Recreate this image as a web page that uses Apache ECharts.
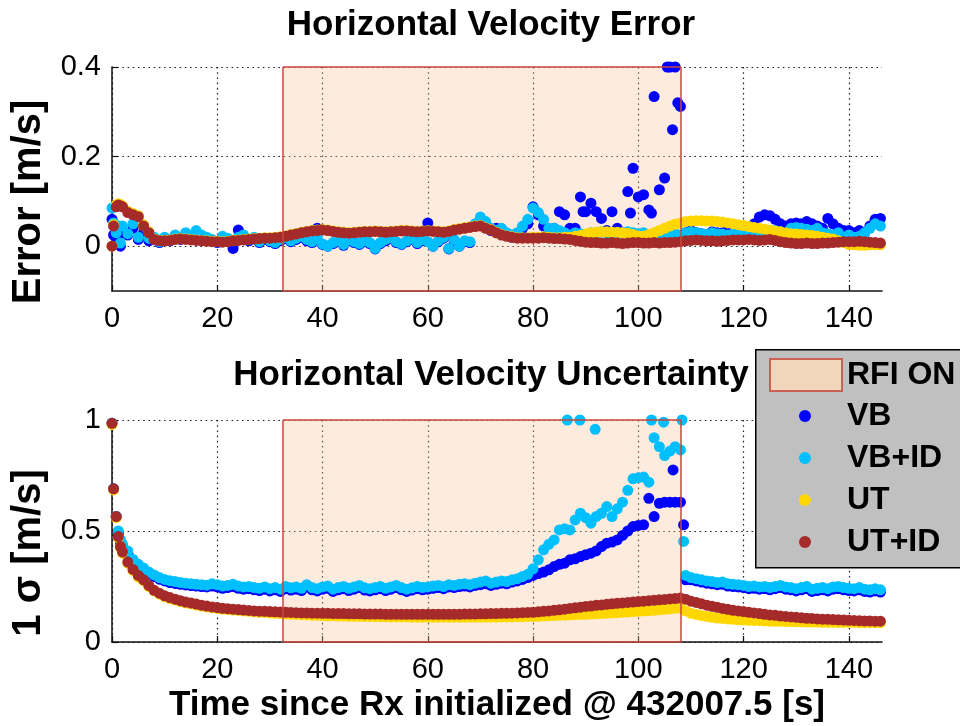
<!DOCTYPE html>
<html><head><meta charset="utf-8">
<script src="https://cdn.jsdelivr.net/npm/echarts@6/dist/echarts.min.js"></script>
<style>html,body{margin:0;padding:0;background:#fff}#c{width:960px;height:726px}</style>
</head><body><div id="c"></div>
<script>
// ---------- data ----------
const rfiStart = 32.5;
const rfiEnd = 108.1;

const xTicks = [0, 20, 40, 60, 80, 100, 120, 140];
const errTicks = [0, 0.2, 0.4];
const sigTicks = [0, 0.5, 1];

const time = [0, 0.3, 0.8, 1.2, 1.6,
  2, 3, 4, 5, 6, 7, 8, 9,
  10, 11, 12, 13, 14, 15, 16, 17, 18, 19,
  20, 21, 22, 23, 24, 25, 26, 27, 28, 29,
  30, 31, 32, 33, 34, 35, 36, 37, 38, 39,
  40, 41, 42, 43, 44, 45, 46, 47, 48, 49,
  50, 51, 52, 53, 54, 55, 56, 57, 58, 59,
  60, 61, 62, 63, 64, 65, 66, 67, 68, 69,
  70, 71, 72, 73, 74, 75, 76, 77, 78, 79,
  80, 81, 82, 83, 84, 85, 86, 87, 88, 89,
  90, 91, 92, 93, 94, 95, 96, 97, 98, 99,
  100, 101, 102, 103, 104, 105, 106, 107, 108, 109,
  110, 111, 112, 113, 114, 115, 116, 117, 118, 119,
  120, 121, 122, 123, 124, 125, 126, 127, 128, 129,
  130, 131, 132, 133, 134, 135, 136, 137, 138, 139,
  140, 141, 142, 143, 144, 145, 146];

// Horizontal velocity error [m/s]
const errVB = [0.06, 0.025, 0.02, 0.03, 0.0,
  0.03, 0.025, 0.04, 0.015, 0.03, 0.012, 0.015, 0.008,
  0.015, 0.012, 0.02, 0.015, 0.025, 0.018, 0.03, 0.02, 0.015, 0.012,
  0.008, 0.018, 0.015, -0.005, 0.036, 0.02, 0.012, 0.018, 0.008, 0.015,
  0.01, 0.006, 0.012, 0.018, 0.01, 0.015, 0.02, 0.012, 0.008, 0.04,
  0.004, 0.0, 0.006, 0.01, 0.002, 0.012, 0.008, 0.004, 0.01, 0.006,
  -0.006, 0.006, 0.012, 0.018, 0.008, 0.004, 0.01, 0.015, 0.006, 0.012,
  0.052, 0.0, 0.01, 0.018, -0.006, 0.012, 0.0, 0.01, 0.008, 0.045,
  0.06, 0.05, 0.035, 0.04, 0.038, 0.025, 0.02, 0.028, 0.04, 0.05,
  0.088, 0.07, 0.045, 0.035, 0.04, 0.077, 0.07, 0.04, 0.04, 0.11,
  0.077, 0.096, 0.077, 0.062, 0.035, 0.077, 0.04, 0.03, 0.122, 0.174,
  0.11, 0.115, 0.081, 0.334, 0.126, 0.152, 0.4, 0.4, 0.312, 0.03,
  0.035, 0.03, 0.028, 0.025, 0.032, 0.03, 0.03, 0.035, 0.04, 0.035,
  0.03, 0.035, 0.05, 0.065, 0.07, 0.068, 0.06, 0.05, 0.045, 0.05,
  0.052, 0.05, 0.055, 0.05, 0.045, 0.04, 0.062, 0.05, 0.04, 0.035,
  0.035, 0.03, 0.035, 0.03, 0.045, 0.06, 0.062];
const errVBExtraT = [89.5, 98.5, 102.5, 105.5, 106.5, 107.5];
const errVBExtra = [0.077, 0.074, 0.074, 0.4, 0.26, 0.32];

const errVBID = [0.085, 0.052, 0.03, 0.045, 0.007,
  0.045, 0.028, 0.05, 0.02, 0.045, 0.018, 0.02, 0.01,
  0.02, 0.015, 0.025, 0.018, 0.03, 0.02, 0.035, 0.025, 0.02, 0.015,
  0.01, 0.022, 0.018, 0.012, 0.02, 0.025, 0.015, 0.02, 0.01, 0.018,
  0.012, 0.008, 0.015, 0.02, 0.012, 0.018, 0.022, 0.015, 0.01, 0.02,
  0.005, 0.0, 0.008, 0.012, 0.004, 0.015, 0.01, 0.006, 0.012, 0.008,
  -0.005, 0.008, 0.015, 0.02, 0.01, 0.005, 0.012, 0.018, 0.008, 0.015,
  0.01, 0.0, 0.012, 0.02, -0.005, 0.015, 0.0, 0.012, 0.01, 0.05,
  0.065, 0.055, 0.04, 0.035, 0.04, 0.03, 0.025, 0.03, 0.045, 0.06,
  0.085, 0.075, 0.06, 0.04, 0.04, 0.035, 0.03, 0.025, 0.03, 0.028,
  0.025, 0.03, 0.028, 0.032, 0.03, 0.03, 0.028, 0.03, 0.032, 0.03,
  0.028, 0.03, 0.026, 0.025, 0.028, 0.03, 0.027, 0.028, 0.025, 0.03,
  0.032, 0.03, 0.028, 0.026, 0.03, 0.028, 0.027, 0.025, 0.028, 0.03,
  0.025, 0.028, 0.03, 0.026, 0.028, 0.03, 0.035, 0.032, 0.028, 0.04,
  0.042, 0.04, 0.038, 0.035, 0.04, 0.03, 0.028, 0.025, 0.03, 0.02,
  0.025, 0.02, 0.022, 0.03, 0.04, 0.05, 0.045];

const errUT = [0.0, 0.048, 0.092, 0.095, 0.093,
  0.09, 0.078, 0.073, 0.068, 0.048, 0.032, 0.016, 0.013,
  0.013, 0.014, 0.016, 0.017, 0.016, 0.015, 0.014, 0.013, 0.012, 0.011,
  0.011, 0.01, 0.011, 0.013, 0.014, 0.015, 0.016, 0.017, 0.018, 0.019,
  0.019, 0.02, 0.021, 0.023, 0.026, 0.028, 0.031, 0.033, 0.035, 0.036,
  0.037, 0.036, 0.034, 0.032, 0.031, 0.03, 0.031, 0.032, 0.033, 0.033,
  0.034, 0.033, 0.032, 0.033, 0.034, 0.035, 0.035, 0.034, 0.033, 0.034,
  0.035, 0.034, 0.033, 0.032, 0.034, 0.037, 0.039, 0.041, 0.043, 0.045,
  0.046, 0.041, 0.037, 0.031, 0.026, 0.023, 0.021, 0.019, 0.019, 0.019,
  0.02, 0.02, 0.021, 0.02, 0.019, 0.019, 0.02, 0.02, 0.022, 0.024,
  0.027, 0.03, 0.031, 0.032, 0.032, 0.031, 0.031, 0.03, 0.029, 0.026,
  0.023, 0.022, 0.026, 0.03, 0.035, 0.04, 0.045, 0.049, 0.052, 0.055,
  0.056, 0.057, 0.057, 0.056, 0.056, 0.055, 0.054, 0.052, 0.05, 0.048,
  0.046, 0.044, 0.042, 0.04, 0.038, 0.036, 0.034, 0.032, 0.03, 0.028,
  0.027, 0.026, 0.025, 0.024, 0.022, 0.02, 0.018, 0.016, 0.012, 0.008,
  0.004, 0.003, 0.002, 0.002, 0.003, 0.003, 0.003];

const errUTID = [0.0, 0.045, 0.088, 0.092, 0.09,
  0.088, 0.075, 0.07, 0.066, 0.045, 0.03, 0.015, 0.012,
  0.012, 0.013, 0.015, 0.016, 0.015, 0.014, 0.013, 0.012, 0.011, 0.01,
  0.01, 0.009, 0.01, 0.012, 0.013, 0.014, 0.015, 0.016, 0.017, 0.018,
  0.018, 0.019, 0.02, 0.022, 0.025, 0.027, 0.03, 0.032, 0.034, 0.035,
  0.036, 0.035, 0.033, 0.031, 0.03, 0.029, 0.03, 0.031, 0.032, 0.032,
  0.033, 0.032, 0.031, 0.032, 0.033, 0.034, 0.034, 0.033, 0.032, 0.033,
  0.034, 0.033, 0.032, 0.031, 0.033, 0.036, 0.038, 0.04, 0.042, 0.044,
  0.045, 0.04, 0.036, 0.03, 0.025, 0.022, 0.02, 0.018, 0.018, 0.018,
  0.018, 0.018, 0.019, 0.018, 0.017, 0.017, 0.016, 0.015, 0.013, 0.011,
  0.009, 0.008, 0.008, 0.007, 0.007, 0.008, 0.007, 0.006, 0.007, 0.008,
  0.008, 0.007, 0.007, 0.008, 0.007, 0.008, 0.008, 0.009, 0.01, 0.012,
  0.013, 0.014, 0.013, 0.012, 0.012, 0.011, 0.012, 0.013, 0.014, 0.014,
  0.014, 0.015, 0.014, 0.013, 0.014, 0.015, 0.013, 0.01, 0.008, 0.007,
  0.006, 0.006, 0.007, 0.006, 0.006, 0.007, 0.007, 0.008, 0.009, 0.01,
  0.01, 0.01, 0.011, 0.01, 0.009, 0.008, 0.007];

// Horizontal velocity uncertainty (1 sigma) [m/s]
const sigVB = [0.985, 0.69, 0.565, 0.49, 0.45,
  0.43, 0.4, 0.365, 0.343, 0.325, 0.308, 0.295, 0.283,
  0.275, 0.268, 0.264, 0.26, 0.257, 0.254, 0.252, 0.25, 0.248, 0.252,
  0.248, 0.242, 0.245, 0.25, 0.242, 0.238, 0.24, 0.235, 0.232, 0.238,
  0.23, 0.235, 0.228, 0.24, 0.234, 0.238, 0.232, 0.248, 0.235, 0.23,
  0.238, 0.242, 0.228, 0.235, 0.24, 0.232, 0.238, 0.245, 0.234, 0.23,
  0.235, 0.24, 0.232, 0.238, 0.245, 0.235, 0.228, 0.234, 0.24, 0.235,
  0.238, 0.242, 0.245, 0.24, 0.248, 0.245, 0.25, 0.252, 0.248, 0.255,
  0.258, 0.262, 0.255, 0.26, 0.265, 0.262, 0.27, 0.275, 0.282, 0.29,
  0.3, 0.308, 0.315, 0.325, 0.34, 0.35, 0.355, 0.37, 0.375, 0.385,
  0.393, 0.4, 0.41, 0.43, 0.445, 0.45, 0.46, 0.48, 0.5, 0.52,
  0.525, 0.528, 0.647, 0.565, 0.625, 0.63, 0.63, 0.63, 0.63, 0.28,
  0.28, 0.275, 0.27, 0.265, 0.262, 0.258, 0.26, 0.252, 0.25, 0.248,
  0.245, 0.24, 0.242, 0.238, 0.24, 0.235, 0.24, 0.245, 0.238, 0.235,
  0.23, 0.235, 0.24, 0.228, 0.232, 0.235, 0.23, 0.238, 0.24, 0.235,
  0.232, 0.23, 0.235, 0.228, 0.225, 0.23, 0.225];
const sigVBExtraT = [106.6, 108.6];
const sigVBExtra = [0.775, 0.528];

const sigVBID = [0.985, 0.69, 0.565, 0.5, 0.46,
  0.44, 0.41, 0.372, 0.35, 0.333, 0.315, 0.302, 0.29,
  0.282, 0.276, 0.272, 0.268, 0.265, 0.262, 0.26, 0.258, 0.256, 0.262,
  0.258, 0.252, 0.255, 0.26, 0.252, 0.248, 0.25, 0.245, 0.242, 0.248,
  0.24, 0.245, 0.238, 0.25, 0.244, 0.248, 0.242, 0.258, 0.245, 0.24,
  0.248, 0.252, 0.238, 0.245, 0.25, 0.242, 0.248, 0.255, 0.244, 0.24,
  0.245, 0.25, 0.242, 0.248, 0.255, 0.245, 0.238, 0.244, 0.25, 0.245,
  0.248, 0.252, 0.255, 0.25, 0.258, 0.255, 0.26, 0.262, 0.258, 0.265,
  0.27, 0.275, 0.265, 0.27, 0.275, 0.272, 0.28, 0.285, 0.295, 0.305,
  0.33, 0.37, 0.415, 0.44, 0.46, 0.505, 0.51, 0.505, 0.55, 0.58,
  0.56, 0.535, 0.565, 0.58, 0.61, 0.565, 0.6, 0.63, 0.683, 0.735,
  0.74, 0.743, 0.72, 0.92, 0.88, 0.84, 0.86, 0.88, 0.865, 0.3,
  0.29, 0.285, 0.28, 0.275, 0.272, 0.268, 0.27, 0.262, 0.26, 0.258,
  0.255, 0.25, 0.252, 0.248, 0.25, 0.245, 0.25, 0.255, 0.248, 0.245,
  0.24, 0.245, 0.25, 0.238, 0.242, 0.245, 0.24, 0.248, 0.25, 0.245,
  0.242, 0.24, 0.245, 0.238, 0.235, 0.24, 0.235];
const sigVBIDExtraT = [86.5, 88.9, 91.8, 102.5, 104.8, 108.3, 108.6];
const sigVBIDExtra = [1.0, 1.0, 0.958, 1.0, 0.99, 1.0, 0.453];

const sigUT = [0.98, 0.685, 0.56, 0.47, 0.425,
  0.4, 0.355, 0.322, 0.292, 0.275, 0.25, 0.23, 0.216,
  0.204, 0.196, 0.189, 0.182, 0.176, 0.172, 0.167, 0.162, 0.158, 0.154,
  0.151, 0.148, 0.146, 0.144, 0.142, 0.14, 0.138, 0.136, 0.134, 0.133,
  0.131, 0.129, 0.128, 0.126, 0.125, 0.124, 0.123, 0.122, 0.121, 0.12,
  0.119, 0.118, 0.118, 0.117, 0.117, 0.116, 0.116, 0.115, 0.115, 0.115,
  0.114, 0.114, 0.114, 0.113, 0.113, 0.113, 0.113, 0.112, 0.112, 0.112,
  0.112, 0.112, 0.112, 0.112, 0.112, 0.112, 0.112, 0.112, 0.112, 0.112,
  0.112, 0.112, 0.112, 0.112, 0.113, 0.113, 0.113, 0.114, 0.114, 0.115,
  0.115, 0.116, 0.117, 0.118, 0.119, 0.12, 0.121, 0.122, 0.123, 0.124,
  0.125, 0.126, 0.127, 0.128, 0.129, 0.131, 0.132, 0.134, 0.135, 0.137,
  0.138, 0.14, 0.141, 0.143, 0.145, 0.147, 0.149, 0.151, 0.153, 0.14,
  0.13, 0.124, 0.119, 0.115, 0.111, 0.108, 0.106, 0.104, 0.102, 0.1,
  0.099, 0.098, 0.097, 0.096, 0.095, 0.094, 0.093, 0.093, 0.092, 0.092,
  0.091, 0.091, 0.09, 0.09, 0.09, 0.089, 0.089, 0.089, 0.088, 0.088,
  0.088, 0.088, 0.087, 0.087, 0.087, 0.087, 0.087];

const sigUTID = [0.985, 0.69, 0.565, 0.475, 0.43,
  0.405, 0.36, 0.327, 0.3, 0.28, 0.255, 0.233, 0.22,
  0.208, 0.2, 0.193, 0.186, 0.18, 0.176, 0.171, 0.166, 0.162, 0.158,
  0.155, 0.152, 0.15, 0.148, 0.146, 0.144, 0.142, 0.14, 0.139, 0.138,
  0.137, 0.136, 0.135, 0.134, 0.133, 0.132, 0.131, 0.131, 0.13, 0.13,
  0.129, 0.129, 0.128, 0.128, 0.128, 0.127, 0.127, 0.127, 0.126, 0.126,
  0.126, 0.126, 0.125, 0.125, 0.125, 0.125, 0.125, 0.125, 0.125, 0.125,
  0.125, 0.125, 0.125, 0.125, 0.125, 0.125, 0.125, 0.126, 0.126, 0.126,
  0.127, 0.127, 0.128, 0.128, 0.129, 0.129, 0.13, 0.131, 0.132, 0.133,
  0.134, 0.136, 0.138, 0.14, 0.143, 0.145, 0.148, 0.151, 0.154, 0.157,
  0.16, 0.162, 0.165, 0.167, 0.17, 0.172, 0.174, 0.176, 0.178, 0.18,
  0.182, 0.184, 0.186, 0.188, 0.19, 0.192, 0.194, 0.196, 0.198, 0.193,
  0.184, 0.178, 0.172, 0.166, 0.161, 0.156, 0.151, 0.147, 0.143, 0.14,
  0.137, 0.134, 0.131, 0.128, 0.125, 0.122, 0.12, 0.117, 0.115, 0.113,
  0.111, 0.109, 0.107, 0.106, 0.104, 0.103, 0.102, 0.101, 0.1, 0.099,
  0.098, 0.097, 0.096, 0.095, 0.095, 0.094, 0.094];

// ---------- chart ----------
const FONT = '"Liberation Sans", Arial, Helvetica, sans-serif';
const COL = { VB: '#0000ff', VBID: '#00bfff', UT: '#ffd700', UTID: '#a52a2a' };
const RFI_FILL = 'rgba(250,200,160,0.35)';
const RFI_EDGE = '#c8463c';
const SYM = 11;

function pts(ts, vs) { return ts.map((t, i) => [t, vs[i]]); }

function rfiSeries(gi, y0, y1) {
  return {
    name: 'RFI ON', type: 'scatter', xAxisIndex: gi, yAxisIndex: gi, data: [],
    itemStyle: { color: '#ffdab9' }, silent: true,
    markArea: {
      silent: true, animation: false,
      itemStyle: { color: RFI_FILL, borderWidth: 0 },
      label: { show: false },
      data: [[{ xAxis: rfiStart, yAxis: y0 }, { xAxis: rfiEnd, yAxis: y1 }]]
    },
    markLine: {
      silent: true, animation: false, symbol: ['none', 'none'],
      label: { show: false },
      lineStyle: { color: RFI_EDGE, width: 1.5, type: 'solid' },
      emphasis: { disabled: true },
      data: [
        [{ coord: [rfiStart, y0] }, { coord: [rfiStart, y1] }],
        [{ coord: [rfiEnd, y0] }, { coord: [rfiEnd, y1] }],
        [{ coord: [rfiStart, y1] }, { coord: [rfiEnd, y1] }],
        [{ coord: [rfiStart, y0] }, { coord: [rfiEnd, y0] }]
      ]
    }
  };
}

function sc(name, gi, data, color) {
  return {
    name, type: 'scatter', xAxisIndex: gi, yAxisIndex: gi, data,
    symbol: 'circle', symbolSize: SYM, itemStyle: { color, opacity: 1 },
    emphasis: { disabled: true }, silent: true
  };
}

const gridLine = { show: true, lineStyle: { color: '#222', width: 1.2, type: [1.6, 3.6] } };
const axLine = { show: true, onZero: false, lineStyle: { color: '#111', width: 1.5 } };
const lab = { color: '#000', fontFamily: FONT, fontSize: 29, lineHeight: 29 };

function xAx(gi, withName) {
  const a = {
    gridIndex: gi, type: 'value', min: 0, max: 146.3, interval: 20,
    axisLine: axLine,
    axisTick: { show: true, inside: true, length: 6, lineStyle: { color: '#111', width: 1.2 }, customValues: xTicks },
    axisLabel: Object.assign({ margin: 13, customValues: xTicks }, lab),
    splitLine: gridLine
  };
  if (withName) {
    a.name = 'Time since Rx initialized @ 432007.5 [s]';
    a.nameLocation = 'middle';
    a.nameGap = 46;
    a.nameTextStyle = { color: '#000', fontFamily: FONT, fontWeight: 'bold', fontSize: 35, lineHeight: 35 };
  }
  return a;
}

function yAx(gi, min, max, ticks, name, shift) {
  return {
    gridIndex: gi, type: 'value', min, max,
    axisLine: axLine,
    axisTick: { show: true, inside: true, length: 6, lineStyle: { color: '#111', width: 1.2 }, customValues: ticks },
    axisLabel: Object.assign({ margin: 11, customValues: ticks }, lab),
    splitLine: gridLine,
    name, nameLocation: 'middle', nameGap: 63, nameRotate: 90,
    nameTextStyle: { color: '#000', fontFamily: FONT, fontWeight: 'bold', fontSize: 40, lineHeight: 40, padding: [0, shift, 0, 0] }
  };
}

const option = {
  animation: false,
  backgroundColor: '#fff',
  title: [
    { text: 'Horizontal Velocity Error', left: 491, top: 8, textAlign: 'center', padding: 0,
      textStyle: { fontFamily: FONT, fontWeight: 'bold', fontSize: 35, lineHeight: 35, color: '#000' } },
    { text: 'Horizontal Velocity Uncertainty', left: 491, top: 358, textAlign: 'center', padding: 0,
      textStyle: { fontFamily: FONT, fontWeight: 'bold', fontSize: 35, lineHeight: 35, color: '#000' } }
  ],
  grid: [
    { left: 112, top: 67, width: 770, height: 224 },
    { left: 112, top: 420, width: 770, height: 222 }
  ],
  xAxis: [xAx(0, false), xAx(1, true)],
  yAxis: [
    yAx(0, -0.1, 0.4, errTicks, 'Error [m/s]', 46),
    yAx(1, 0, 1, sigTicks, '1 σ [m/s]', 44)
  ],
  graphic: [
    { type: 'rect', z: 100, left: 755, top: 349, shape: { x: 0, y: 0, width: 220, height: 218 },
      style: { fill: '#c0c0c0', stroke: '#000', lineWidth: 1.5 } }
  ],
  legend: [
    { z: 110, left: 769, top: 358, orient: 'vertical', padding: 0, selectedMode: false,
      itemWidth: 72, itemHeight: 32,
      textStyle: { fontFamily: FONT, fontWeight: 'bold', fontSize: 32, lineHeight: 32, color: '#000' },
      data: [{ name: 'RFI ON', icon: 'rect', itemStyle: { color: '#ffdab9', borderColor: RFI_EDGE, borderWidth: 2 } }] },
    { z: 110, left: 799, top: 400, orient: 'vertical', padding: 0, selectedMode: false,
      itemWidth: 74, itemHeight: 12, itemGap: 10, symbolKeepAspect: true,
      textStyle: { fontFamily: FONT, fontWeight: 'bold', fontSize: 32, lineHeight: 32, color: '#000' },
      data: [
        { name: 'VB', icon: 'circle' }, { name: 'VB+ID', icon: 'circle' },
        { name: 'UT', icon: 'circle' }, { name: 'UT+ID', icon: 'circle' }
      ] }
  ],
  series: [
    rfiSeries(0, -0.1, 0.4),
    rfiSeries(1, 0, 1),
    sc('VB', 0, pts(time, errVB).concat(pts(errVBExtraT, errVBExtra)), COL.VB),
    sc('VB', 1, pts(time, sigVB).concat(pts(sigVBExtraT, sigVBExtra)), COL.VB),
    sc('VB+ID', 0, pts(time, errVBID), COL.VBID),
    sc('VB+ID', 1, pts(time, sigVBID).concat(pts(sigVBIDExtraT, sigVBIDExtra)), COL.VBID),
    sc('UT', 0, pts(time, errUT), COL.UT),
    sc('UT', 1, pts(time, sigUT), COL.UT),
    sc('UT+ID', 0, pts(time, errUTID), COL.UTID),
    sc('UT+ID', 1, pts(time, sigUTID), COL.UTID)
  ]
};

const chart = echarts.init(document.getElementById('c'), null, { renderer: 'canvas' });
chart.setOption(option);
</script></body></html>
